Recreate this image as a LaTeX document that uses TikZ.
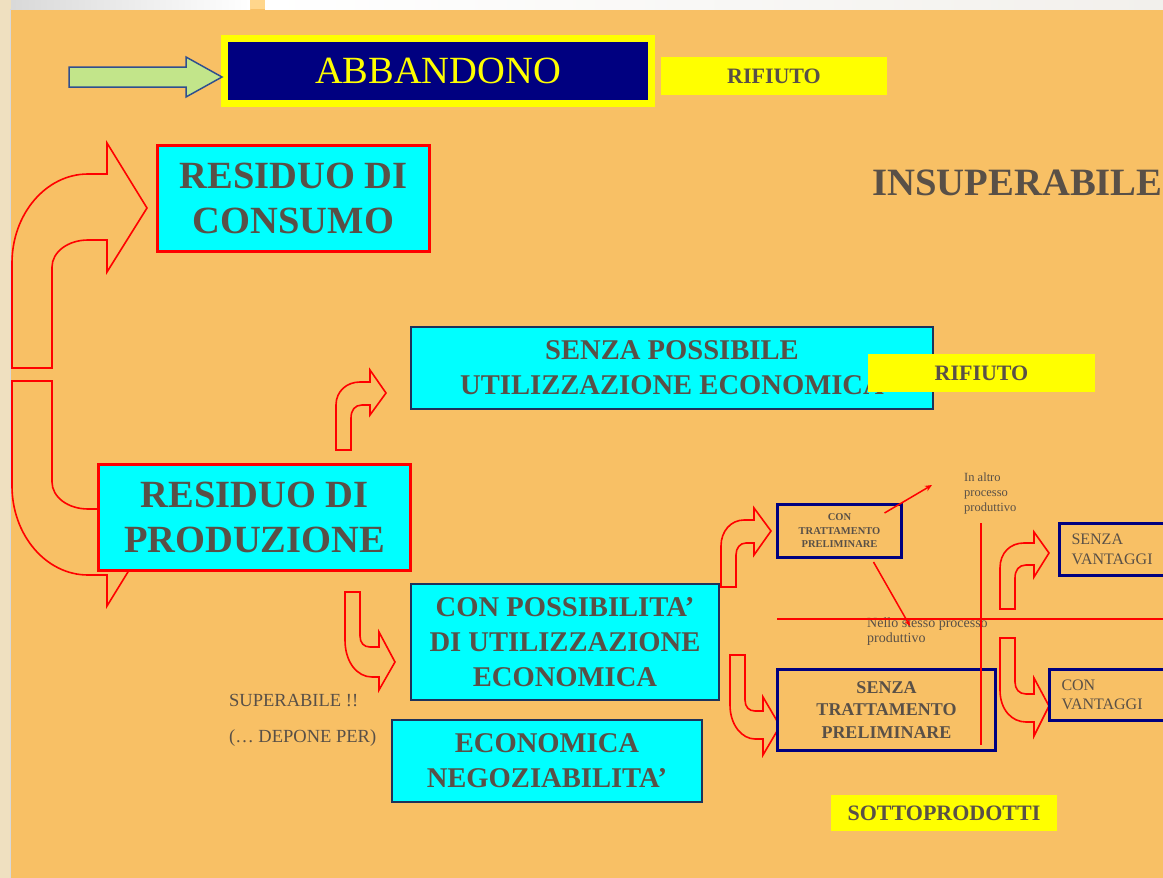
\documentclass[tikz,border=0pt]{standalone}
\usepackage{fontspec}
\setmainfont{Liberation Serif}
\usepackage{xcolor}
\definecolor{slide}{RGB}{248,192,101}
\definecolor{inkgray}{RGB}{89,80,71}
\definecolor{navy}{RGB}{0,0,128}
\definecolor{slate}{RGB}{30,50,90}
\definecolor{aqua}{RGB}{0,255,255}
\definecolor{lemon}{RGB}{255,255,0}
\definecolor{signal}{RGB}{255,0,0}
\definecolor{leaf}{RGB}{194,229,138}
\definecolor{leafedge}{RGB}{47,79,143}
\definecolor{parchment}{RGB}{239,224,192}
\definecolor{paleorange}{RGB}{255,214,140}
\definecolor{mist}{RGB}{242,240,236}
\usetikzlibrary{arrows.meta,calc}
\tikzset{>=stealth}
\tikzset{%
    redbox/.style={draw=signal, line width=3pt, fill=aqua, text=inkgray, align=center,
        inner sep=0pt, font=\fontsize{38.5}{45}\selectfont\bfseries},
    cyanbox/.style={draw=slate, line width=2pt, fill=aqua, text=inkgray, align=center,
        inner sep=0pt, font=\fontsize{28.6}{35}\selectfont\bfseries},
    navybox/.style={draw=navy, line width=3pt, fill=slide, text=inkgray, align=center,
        inner sep=0pt},
    yellowtag/.style={fill=lemon, text=inkgray, inner sep=0pt,
        font=\fontsize{22}{26}\selectfont\bfseries},
    bentarrow/.style={draw=signal, line width=1.6pt},
    note/.style={text=inkgray, align=left, inner sep=0pt}
}

\begin{document}
\begin{tikzpicture}[x=1pt,y=-1pt]
    \useasboundingbox (0,0) rectangle (1163,878);
    \clip (0,0) rectangle (1163,878);
    % slide background
    \fill[slide] (0,0) rectangle (1163,878);
    \fill[parchment] (0,0) rectangle (10,878);
    \fill[parchment] (0,0) rectangle (11,9);
    \draw[gray!30, line width=1pt] (10.5,9) -- (10.5,878);
    \shade[left color=gray!30, right color=white] (11,0) rectangle (250,9);
    \fill[paleorange] (250,0) rectangle (265,9);
    \shade[left color=white, right color=mist] (265,0) rectangle (1163,9);

    % top row
    \node[draw=lemon, line width=7pt, fill=navy, text=lemon, inner sep=0pt,
        minimum width=427pt, minimum height=65pt,
        font=\fontsize{38.5}{45}\selectfont] (abband) at (438,71) {ABBANDONO};
    \draw[fill=leaf, draw=leafedge, line width=1.5pt]
    (69,67) -- (186,67) -- (186,57) -- (222,77) -- (186,97) -- (186,87) -- (69,87) -- cycle;
    \node[yellowtag, minimum width=226pt, minimum height=38pt] (rifiutoA) at (774,76) {RIFIUTO};
    \node[text=inkgray, anchor=west, inner sep=0pt,
        font=\fontsize{38.7}{45}\selectfont\bfseries] (insup) at (872,183) {INSUPERABILE};

    % big u-turn arrows on the left
    \draw[bentarrow] (12,368) -- (12,263) .. controls (12,214) and (46,174) .. (88,174)
    -- (107,174) -- (107,143) -- (147,208) -- (107,272) -- (107,240) -- (88,240)
    .. controls (68,240) and (52,252) .. (52,267) -- (52,368) -- cycle;
    \draw[bentarrow] (12,381) -- (12,486) .. controls (12,535) and (46,575) .. (88,575)
    -- (107,575) -- (107,606) -- (147,541) -- (107,477) -- (107,509) -- (88,509)
    .. controls (68,509) and (52,497) .. (52,482) -- (52,381) -- cycle;

    \node[redbox, minimum width=272pt, minimum height=106pt] (consumo) at (293.5,198.5) {RESIDUO DI\\CONSUMO};
    \node[redbox, minimum width=312pt, minimum height=106pt] (produz) at (254.5,517.5) {RESIDUO DI\\PRODUZIONE};

    % small bent arrows
    \draw[bentarrow] (336,450) -- (336,405) .. controls (336,391) and (347,382) .. (360,382)
    -- (370,382) -- (370,370) -- (386,393) -- (370,415) -- (370,405) -- (362,405)
    .. controls (355,405) and (351,410) .. (351,418) -- (351,450) -- cycle;
    \draw[bentarrow] (345,592) -- (345,640) .. controls (345,662) and (357,677) .. (372,677)
    -- (379,677) -- (379,690) -- (395,662) -- (379,632) -- (379,647) -- (370,647)
    .. controls (364,647) and (360,643) .. (360,636) -- (360,592) -- cycle;

    \node[cyanbox, minimum width=522pt, minimum height=82pt] (senzaposs) at (672,368)
    {SENZA POSSIBILE\\UTILIZZAZIONE ECONOMICA};
    \node[yellowtag, minimum width=227pt, minimum height=38pt] (rifiutoB) at (981.5,373) {RIFIUTO};
    \node[cyanbox, minimum width=308pt, minimum height=116pt] (conposs) at (565,642)
    {CON POSSIBILITA’\\DI UTILIZZAZIONE\\ECONOMICA};
    \node[cyanbox, minimum width=310pt, minimum height=82pt] (negoz) at (547,761)
    {ECONOMICA\\NEGOZIABILITA’};

    \node[note, anchor=west, font=\fontsize{18.5}{22}\selectfont] (superab) at (229,701) {SUPERABILE !!};
    \node[note, anchor=west, font=\fontsize{18.5}{22}\selectfont] (depone) at (229,738) {(… DEPONE PER)};

    % right part
    \draw[bentarrow] (721,587) -- (721,546) .. controls (721,531) and (731,520) .. (744,520)
    -- (754,520) -- (754,508) -- (771,531) -- (754,555) -- (754,543) -- (746,543)
    .. controls (740,543) and (736,548) .. (736,555) -- (736,587) -- cycle;
    \draw[bentarrow] (730,655) -- (730,705) .. controls (730,725) and (742,739) .. (755,739)
    -- (763,739) -- (763,755) -- (780,726) -- (763,697) -- (763,711) -- (755,711)
    .. controls (749,711) and (745,707) .. (745,700) -- (745,655) -- cycle;
    \draw[bentarrow] (1000,609) -- (1000,568) .. controls (1000,553) and (1010,543) .. (1024,543)
    -- (1034,543) -- (1034,532) -- (1049,553) -- (1034,577) -- (1034,565) -- (1026,565)
    .. controls (1019,565) and (1015,570) .. (1015,578) -- (1015,609) -- cycle;
    \draw[bentarrow] (1000,638) -- (1000,690) .. controls (1000,710) and (1012,722) .. (1026,722)
    -- (1034,722) -- (1034,736) -- (1049,706) -- (1034,678) -- (1034,694) -- (1026,694)
    .. controls (1019,694) and (1015,689) .. (1015,682) -- (1015,638) -- cycle;

    \node[navybox, minimum width=124pt, minimum height=53pt,
        font=\fontsize{10.5}{13.5}\selectfont\bfseries] (contratt) at (839.5,531)
    {CON\\TRATTAMENTO\\PRELIMINARE};
    \node[navybox, minimum width=218pt, minimum height=81pt,
        font=\fontsize{18}{22.5}\selectfont\bfseries] (senzatratt) at (886.5,710)
    {SENZA\\TRATTAMENTO\\PRELIMINARE};
    \node[navybox, anchor=west, minimum width=124pt, minimum height=52pt, text width=100pt,
        align=left, inner xsep=12pt, font=\fontsize{16}{20}\selectfont] (senzavant) at (1058,549.5)
    {SENZA\\VANTAGGI};
    \node[navybox, anchor=west, minimum width=134pt, minimum height=51pt, text width=110pt,
        align=left, inner xsep=12pt, font=\fontsize{16}{19}\selectfont] (convant) at (1048,695)
    {CON\\VANTAGGI};

    \node[note, anchor=north west, font=\fontsize{12.5}{15}\selectfont] (altro) at (964,473)
    {In altro\\processo\\produttivo};
    \node[note, anchor=north west, font=\fontsize{14}{15}\selectfont] (stesso) at (867,618)
    {Nello stesso processo\\produttivo};

    % dividing lines
    \coordinate (hstart) at (777,619);
    \coordinate (hend) at (1163,619);
    \coordinate (vtop) at (981,523);
    \coordinate (vbot) at (981,745);
    \draw[signal, line width=1.5pt] (hstart) -- (hend);
    \draw[signal, line width=2pt] (vtop) -- (vbot);
    \coordinate (altrotip) at (932,485);
    \coordinate (stessotip) at (910,626);
    \draw[signal, line width=1.5pt, -{Stealth[length=7pt,width=6pt]}] ($(contratt.center)+(45,-18)$) -- (altrotip);
    \draw[signal, line width=1.5pt, -{Stealth[length=6pt,width=5pt]}] ($(contratt.south)+(34,3)$) -- (stessotip);

    \node[yellowtag, minimum width=226pt, minimum height=36pt] (sottoprod) at (944,813) {SOTTOPRODOTTI};
\end{tikzpicture}
\end{document}
